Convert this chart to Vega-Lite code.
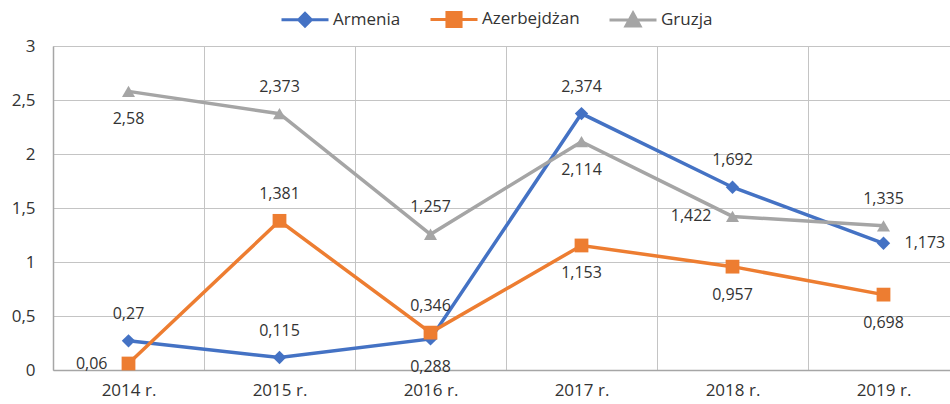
{
  "$schema": "https://vega.github.io/schema/vega-lite/v6.json",
  "width": 906,
  "height": 324,
  "autosize": {"type": "none"},
  "padding": {"left": 53, "top": 46, "right": 0, "bottom": 34},
  "config": {
    "view": {"stroke": null},
    "font": "Open Sans",
    "locale": {"number": {"decimal": ",", "thousands": " ", "grouping": [3], "currency": ["", " zł"]}}
  },
  "data": {
    "values": [
      {"year": "2014 r.", "series": "Armenia", "value": 0.27},
      {"year": "2015 r.", "series": "Armenia", "value": 0.115},
      {"year": "2016 r.", "series": "Armenia", "value": 0.288},
      {"year": "2017 r.", "series": "Armenia", "value": 2.374},
      {"year": "2018 r.", "series": "Armenia", "value": 1.692},
      {"year": "2019 r.", "series": "Armenia", "value": 1.173},
      {"year": "2014 r.", "series": "Azerbejdżan", "value": 0.06},
      {"year": "2015 r.", "series": "Azerbejdżan", "value": 1.381},
      {"year": "2016 r.", "series": "Azerbejdżan", "value": 0.346},
      {"year": "2017 r.", "series": "Azerbejdżan", "value": 1.153},
      {"year": "2018 r.", "series": "Azerbejdżan", "value": 0.957},
      {"year": "2019 r.", "series": "Azerbejdżan", "value": 0.698},
      {"year": "2014 r.", "series": "Gruzja", "value": 2.58},
      {"year": "2015 r.", "series": "Gruzja", "value": 2.373},
      {"year": "2016 r.", "series": "Gruzja", "value": 1.257},
      {"year": "2017 r.", "series": "Gruzja", "value": 2.114},
      {"year": "2018 r.", "series": "Gruzja", "value": 1.422},
      {"year": "2019 r.", "series": "Gruzja", "value": 1.335}
    ]
  },
  "encoding": {
    "x": {
      "field": "year", "type": "ordinal",
      "scale": {"type": "band", "paddingInner": 0, "paddingOuter": 0},
      "axis": {
        "title": null, "tickBand": "extent", "grid": true, "gridColor": "#c4c4c4", "gridWidth": 1,
        "domainColor": "#a6a6a6", "domainWidth": 1.5, "ticks": false, "labelAngle": 0,
        "labelFontSize": 17, "labelPadding": 12, "labelColor": "#333333"
      }
    },
    "y": {
      "field": "value", "type": "quantitative",
      "scale": {"domain": [0, 3], "nice": false},
      "axis": {
        "title": null, "values": [0, 0.5, 1, 1.5, 2, 2.5, 3], "format": "~g",
        "grid": true, "gridColor": "#c4c4c4", "domainColor": "#a6a6a6", "domainWidth": 1.5,
        "ticks": false, "labelPadding": 18, "labelFontSize": 17, "labelColor": "#333333"
      }
    }
  },
  "layer": [
    {
      "mark": {"type": "line", "strokeWidth": 3.5},
      "encoding": {
        "color": {
          "field": "series", "type": "nominal",
          "scale": {"domain": ["Armenia", "Azerbejdżan", "Gruzja"], "range": ["#4472C4", "#ED7D31", "#A5A5A5"]},
          "legend": {
            "orient": "none", "legendX": 227, "legendY": -52, "direction": "horizontal", "columns": 3,
            "title": null, "symbolSize": 2209, "symbolStrokeWidth": 3, "labelFontSize": 17,
            "labelColor": "#333333", "labelOffset": 3, "columnPadding": 23, "padding": 0,
            "encode": {
              "symbols": {
                "update": {
                  "shape": {"signal": "datum.value === 'Armenia' ? 'M-1,0H1M-0.27,0L0,-0.27L0.27,0L0,0.27Z' : datum.value === 'Azerbejdżan' ? 'M-1,0H1M-0.3,-0.3H0.3V0.3H-0.3Z' : 'M-1,0H1M0,-0.3L0.3,0.25L-0.3,0.25Z'"},
                  "fill": {"signal": "datum.value === 'Armenia' ? '#4472C4' : datum.value === 'Azerbejdżan' ? '#ED7D31' : '#A5A5A5'"},
                  "stroke": {"signal": "datum.value === 'Armenia' ? '#4472C4' : datum.value === 'Azerbejdżan' ? '#ED7D31' : '#A5A5A5'"},
                  "strokeWidth": {"value": 3},
                  "opacity": {"value": 1},
                  "fillOpacity": {"value": 1}
                }
              }
            }
          }
        }
      }
    },
    {
      "transform": [{"filter": "datum.series === 'Armenia'"}],
      "mark": {"type": "point", "shape": "diamond", "filled": true, "opacity": 1, "size": 180},
      "encoding": {"color": {"field": "series", "type": "nominal"}}
    },
    {
      "transform": [{"filter": "datum.series === 'Azerbejdżan'"}],
      "mark": {"type": "point", "shape": "square", "filled": true, "opacity": 1, "size": 190},
      "encoding": {"color": {"field": "series", "type": "nominal"}}
    },
    {
      "transform": [{"filter": "datum.series === 'Gruzja'"}],
      "mark": {"type": "point", "shape": "triangle-up", "filled": true, "opacity": 1, "size": 170},
      "encoding": {"color": {"field": "series", "type": "nominal"}}
    },
    {
      "transform": [{"filter": "indexof(['Armenia|2014 r.','Armenia|2015 r.','Armenia|2017 r.','Armenia|2018 r.','Azerbejdżan|2015 r.','Azerbejdżan|2016 r.','Gruzja|2015 r.','Gruzja|2016 r.','Gruzja|2019 r.'], datum.series + '|' + datum.year) >= 0"}],
      "mark": {"type": "text", "dy": -27, "fontSize": 16, "color": "#333333"},
      "encoding": {"text": {"field": "value", "type": "quantitative", "format": "~g"}}
    },
    {
      "transform": [{"filter": "indexof(['Armenia|2016 r.','Azerbejdżan|2017 r.','Azerbejdżan|2018 r.','Azerbejdżan|2019 r.','Gruzja|2014 r.','Gruzja|2017 r.'], datum.series + '|' + datum.year) >= 0"}],
      "mark": {"type": "text", "dy": 28, "fontSize": 16, "color": "#333333"},
      "encoding": {"text": {"field": "value", "type": "quantitative", "format": "~g"}}
    },
    {
      "transform": [{"filter": "indexof(['Azerbejdżan|2014 r.','Gruzja|2018 r.'], datum.series + '|' + datum.year) >= 0"}],
      "mark": {"type": "text", "dx": -21, "align": "right", "fontSize": 16, "color": "#333333"},
      "encoding": {"text": {"field": "value", "type": "quantitative", "format": "~g"}}
    },
    {
      "transform": [{"filter": "indexof(['Armenia|2019 r.'], datum.series + '|' + datum.year) >= 0"}],
      "mark": {"type": "text", "dx": 21, "align": "left", "fontSize": 16, "color": "#333333"},
      "encoding": {"text": {"field": "value", "type": "quantitative", "format": "~g"}}
    }
  ]
}
